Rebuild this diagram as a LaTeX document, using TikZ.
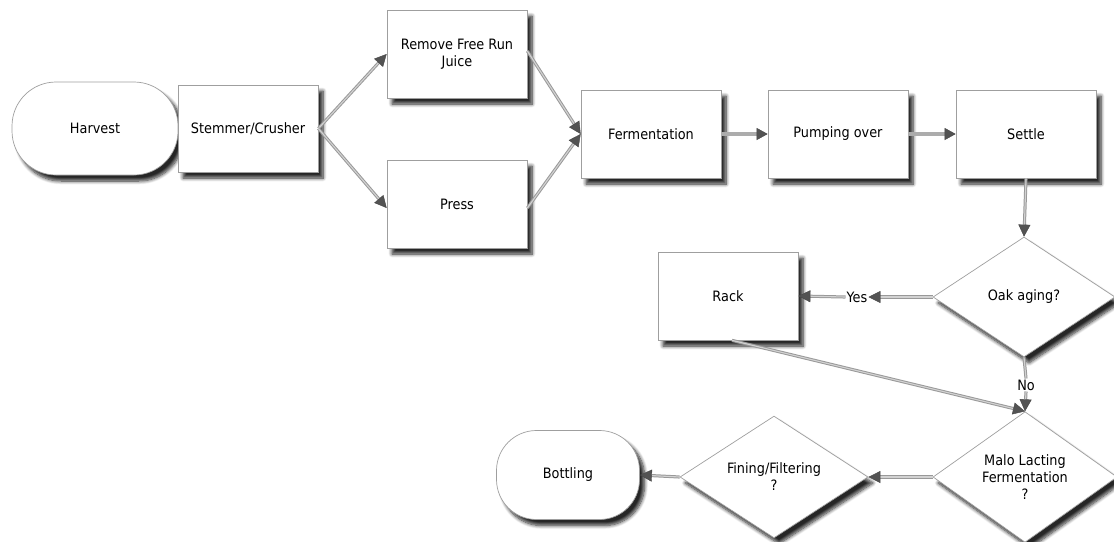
\documentclass[tikz,border=0pt]{standalone}
\usepackage{fontspec}
\setmainfont{DejaVu Sans Condensed}
\usetikzlibrary{shapes.geometric,arrows.meta,shadows.blur}
\tikzset{
  base/.style={draw=gray!75, line width=0.7pt, fill=white, font=\fontsize{14.3}{17}\selectfont,
    align=center, inner sep=0pt,
    blur shadow={shadow xshift=5pt, shadow yshift=-6pt, shadow blur steps=8, shadow blur radius=3.5pt, shadow opacity=85}},
  procbox/.style={base, rectangle, minimum width=140pt, minimum height=88pt},
  termbox/.style={base, rectangle, rounded corners=44pt},
  choice/.style={base, diamond, minimum width=184pt, minimum height=120pt},
  lbl/.style={font=\fontsize{14.3}{17}\selectfont, inner sep=1pt},
  conn/.style={draw=gray!80, double=gray!35, double distance=1.1pt, line width=1pt,
    -{Triangle[length=12pt,width=12pt,color=gray!55!black,fill=gray!65!black,line width=0.4pt]}},
  fat/.style={draw=gray!65, line width=4.5pt,
    -{Triangle[length=11pt,width=12pt,color=gray!55!black,fill=gray!65!black,line width=0.4pt]}},
  plain/.style={draw=gray!80, double=gray!35, double distance=1.1pt, line width=1pt}
}
\begin{document}
\begin{tikzpicture}[x=1pt,y=-1pt]
\useasboundingbox (0,0) rectangle (1114,541);

% top row
\node[termbox, minimum width=166pt, minimum height=93pt] (harvest) at (95,128.5) {Harvest};
\node[procbox, minimum height=87pt] (stem) at (248,128.5) {Stemmer/Crusher};
\node[procbox] (remove) at (457,54) {Remove Free Run\\Juice};
\node[procbox] (press) at (457,204) {Press};
\node[procbox] (ferm) at (651,134) {Fermentation};
\node[procbox] (pump) at (838,134) {Pumping over};
\node[procbox] (settle) at (1026,134) {Settle};

% decisions
\node[choice, minimum width=182pt] (oak) at (1024,297) {Oak aging?};
\node[procbox] (rack) at (728,296) {Rack};
\node[lbl] (yes) at (857,297) {Yes};
\node[lbl] (no) at (1026,385) {No};
\node[choice] (malo) at (1025,477) {Malo Lacting\\Fermentation\\?};
\node[choice, minimum width=188pt] (fining) at (774,477) {Fining/Filtering\\?};
\node[termbox, minimum width=143pt, minimum height=89pt, rounded corners=40pt] (bottling) at (568,475) {Bottling};

% connectors
\draw[conn] (stem.east) -- (remove.west);
\draw[conn] (stem.east) -- ([yshift=-4pt]press.west);
\draw[conn] ([yshift=3pt]remove.east) -- (ferm.west);
\draw[conn] ([yshift=-4pt]press.east) -- (ferm.west);
\draw[fat] (ferm.east) -- (pump.west);
\draw[fat] (pump.east) -- (settle.west);
\draw[conn] (settle.south) -- (oak.north);
\draw[conn] (oak.west) -- (yes.east);
\draw[conn] (yes.west) -- (rack.east);
\draw[plain] (oak.south) -- (no.north);
\draw[conn] (no.south) -- (malo.north);
\draw[conn] ([xshift=4pt]rack.south) -- (malo.north);
\draw[conn] (malo.west) -- (fining.east);
\draw[conn] (fining.west) -- (bottling.east);
\end{tikzpicture}
\end{document}
